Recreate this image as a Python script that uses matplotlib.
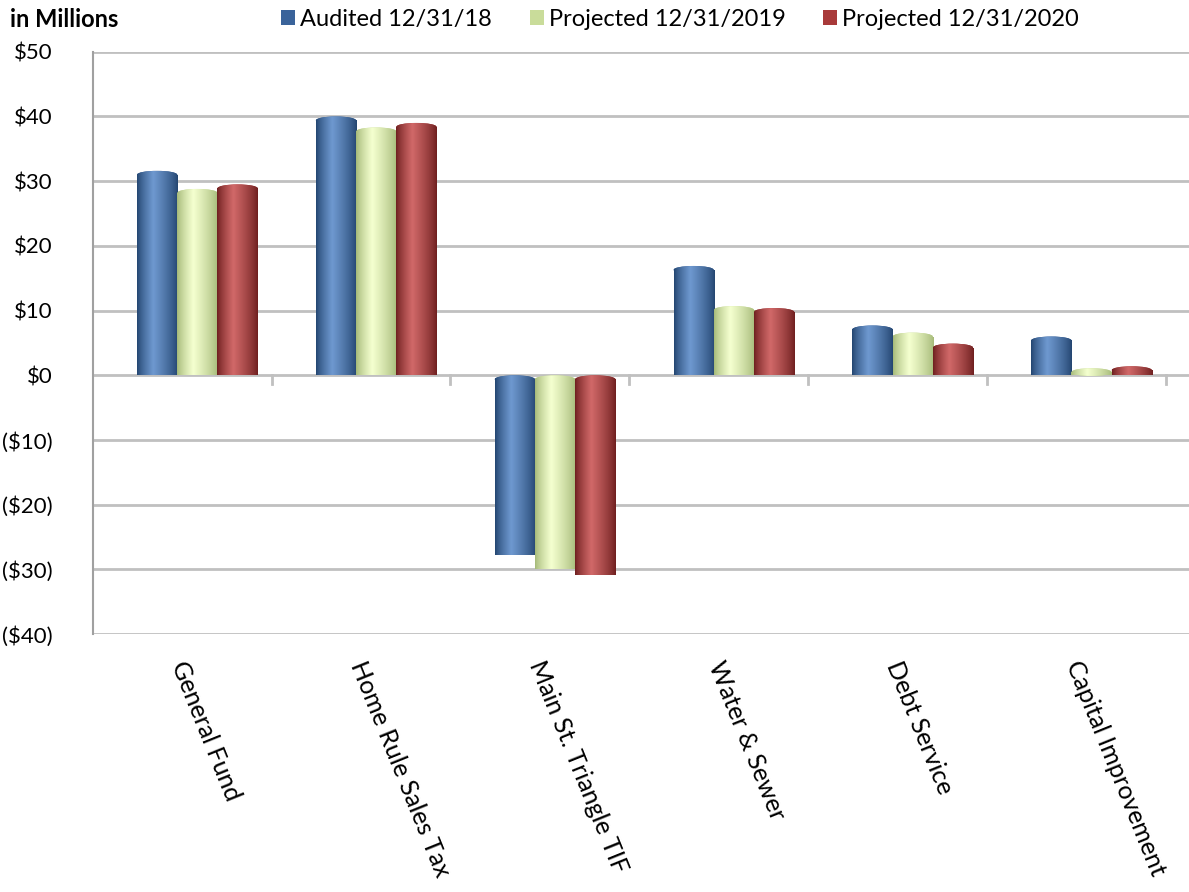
import matplotlib
matplotlib.use("Agg")
import matplotlib.pyplot as plt
import matplotlib.patches as mpatches
from matplotlib.colors import LinearSegmentedColormap
from matplotlib.ticker import FuncFormatter
import numpy as np

# данные (в миллионах)
categories = ["General Fund", "Home Rule Sales Tax", "Main St. Triangle TIF",
              "Water & Sewer", "Debt Service", "Capital Improvement"]
series_names = ["Audited 12/31/18", "Projected 12/31/2019", "Projected 12/31/2020"]
audited_2018 = [31.6, 40.0, -27.8, 16.9, 7.7, 6.0]
projected_2019 = [28.8, 38.3, -30.0, 10.7, 6.6, 1.1]
projected_2020 = [29.5, 39.0, -30.8, 10.4, 4.9, 1.4]
yticks = [50, 40, 30, 20, 10, 0, -10, -20, -30, -40]

# цвета: край, центр
shades = [("#234570", "#6e98cf"), ("#a5b978", "#f4ffcf"), ("#6e1f1f", "#d06868")]
legend_colors = ["#3a639a", "#c9dc9a", "#a83a3a"]

plt.rcParams['font.family'] = ['Lato', 'DejaVu Sans']

fig = plt.figure(figsize=(11.89, 8.92), dpi=100)
ax = fig.add_axes([0.078, 0.289, 0.922, 0.653])

x = np.arange(len(categories)) + 0.085
w = 0.225
cap = 1.2  # высота эллипса-крышки цилиндра
all_series = [audited_2018, projected_2019, projected_2020]

profile = np.concatenate([np.linspace(0, 1, 40) ** 0.8, np.linspace(1, 0, 60) ** 0.8])
grad = profile.reshape(1, -1)


def shade(patch, cmap, x0, x1, y0, y1):
    im = ax.imshow(grad, cmap=cmap, aspect='auto', zorder=4,
                   extent=[x0, x1, y0, y1], origin='lower')
    im.set_clip_path(patch)


for i, vals in enumerate(all_series):
    edge, mid = shades[i]
    cmap = LinearSegmentedColormap.from_list("c%d" % i, [edge, mid])
    vals = np.array(vals)
    top = np.where(vals > 0, vals - cap / 2, -cap / 2)   # верх тела цилиндра
    bottom = np.where(vals > 0, 0, vals)
    xs = x + (i - 1) * w
    bars = ax.bar(xs, top - bottom, w, bottom=bottom, color=legend_colors[i], zorder=3)
    for b, xc, t in zip(bars, xs, top):
        shade(b, cmap, b.get_x(), b.get_x() + w, b.get_y(), b.get_y() + b.get_height())
        el = mpatches.Ellipse((xc, t), w, cap, facecolor=legend_colors[i],
                              edgecolor='none', zorder=3)
        ax.add_patch(el)
        shade(el, cmap, xc - w / 2, xc + w / 2, t - cap / 2, t + cap / 2)

ax.set_xlim(-0.5, len(categories) - 0.37)
ax.set_ylim(-40, 50)
ax.set_yticks(yticks)
ax.yaxis.set_major_formatter(FuncFormatter(
    lambda v, p: "$%d" % v if v >= 0 else "($%d)" % abs(v)))
ax.tick_params(axis='y', length=0, labelsize=16, pad=29)
ax.grid(axis='y', color="#c0c0c0", linewidth=2, zorder=0)
ax.set_axisbelow(True)
for s in ["top", "right", "bottom"]:
    ax.spines[s].set_visible(False)
ax.spines["left"].set_color("#a0a0a0")
ax.spines["left"].set_linewidth(1.5)

# засечки категорий на нулевой линии
ax.set_xticks([])
for k in range(1, len(categories) + 1):
    ax.plot([k - 0.5, k - 0.5], [0, -1.3], color="#c0c0c0", lw=2,
            zorder=2, clip_on=False)

for k, name in enumerate(categories):
    ax.annotate(name, xy=(k, -40), xytext=(-3, -20), textcoords='offset points',
                rotation=-68, rotation_mode='anchor', ha='left', va='center',
                fontsize=18, annotation_clip=False)

fig.text(0.008, 0.978, "in Millions", fontsize=17, fontweight='bold', va='center')

handles = [mpatches.Patch(facecolor=c, edgecolor='none') for c in legend_colors]
fig.legend(handles, series_names, loc='center', bbox_to_anchor=(0.572, 0.978),
           ncol=3, frameon=False, fontsize=17, handlelength=0.6, handleheight=0.6,
           handletextpad=0.2, columnspacing=1.6)

fig.savefig("out.png", dpi=100)
